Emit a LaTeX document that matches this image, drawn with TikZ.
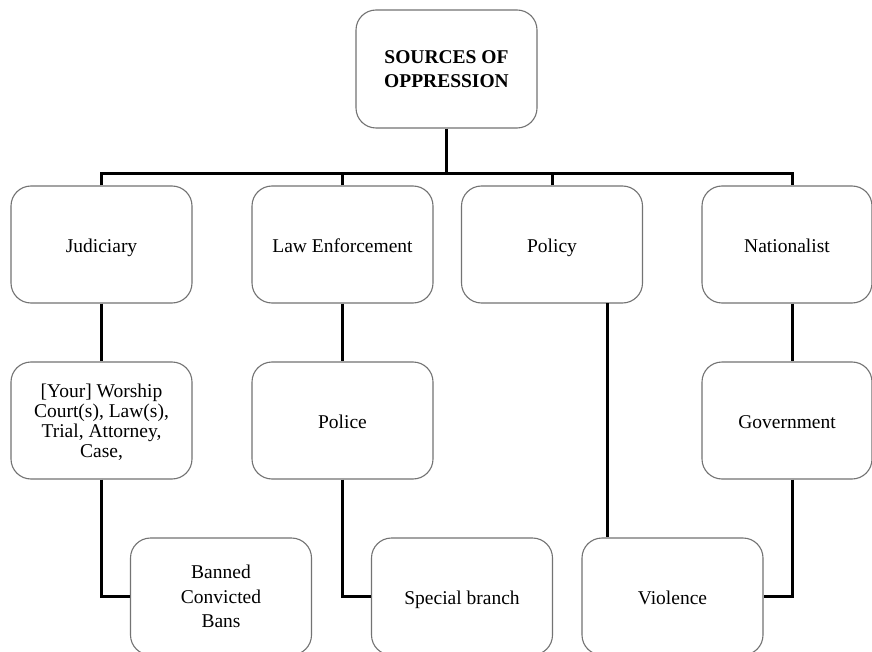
\documentclass[tikz,border=0pt]{standalone}
\usepackage{fontspec}
\setmainfont{Liberation Serif}
\begin{document}
\begin{tikzpicture}[x=1pt,y=-1pt,
  box/.style={draw=black!55, line width=1.1pt, rounded corners=20pt, fill=white,
    minimum width=181pt, minimum height=117pt, inner sep=0pt, align=center,
    font=\fontsize{19.5}{20}\selectfont},
  one/.style={text height=17pt, text depth=2pt},
  wide/.style={font=\fontsize{19.5}{24.5}\selectfont},
  conn/.style={line width=3pt, black}]
\clip (0,0) rectangle (872,652);
\fill[white] (0,0) rectangle (872,652);
% nodes
\node[box, minimum height=118pt, font=\bfseries\fontsize{19.5}{24}\selectfont] (top) at (446.5,69) {SOURCES OF\\OPPRESSION};
\node[box, one] (jud) at (101.5,244.5) {Judiciary};
\node[box, one] (law) at (342.5,244.5) {Law Enforcement};
\node[box, one] (pol) at (552,244.5) {Policy};
\node[box, one, minimum width=170pt] (nat) at (787,244.5) {Nationalist};
\node[box, text depth=0pt] (wor) at (101.5,420.5) {[Your] Worship\\Court(s), Law(s),\\Trial, Attorney,\\Case,};
\node[box, one] (police) at (342.5,420.5) {Police};
\node[box, one, minimum width=170pt] (gov) at (787,420.5) {Government};
\node[box, wide, text depth=-5pt] (ban) at (221,596.5) {Banned\\Convicted\\Bans};
\node[box, one] (spe) at (462,596.5) {Special branch};
\node[box, one] (vio) at (672.5,596.5) {Violence};
% connectors
\coordinate (busL) at (101,174);
\coordinate (busR) at (792,174);
\coordinate (polout) at (607,303);
\draw[conn] (jud.north -| busL) -- (busL) -- (busR) -- (busR |- nat.north);
\draw[conn] (top.south) -- (top.south |- busL);
\draw[conn] (law.north) -- (law.north |- busL);
\draw[conn] (pol.north) -- (pol.north |- busL);
\draw[conn] (jud.south -| busL) -- (wor.north -| busL);
\draw[conn] (wor.south -| busL) |- (ban.west);
\draw[conn] (law.south) -- (police.north);
\draw[conn] (police.south) |- (spe.west);
\draw[conn] (busR |- nat.south) -- (busR |- gov.north);
\draw[conn] (busR |- gov.south) |- (vio.east);
\draw[conn] (polout) -- (polout |- vio.north);
\end{tikzpicture}
\end{document}
